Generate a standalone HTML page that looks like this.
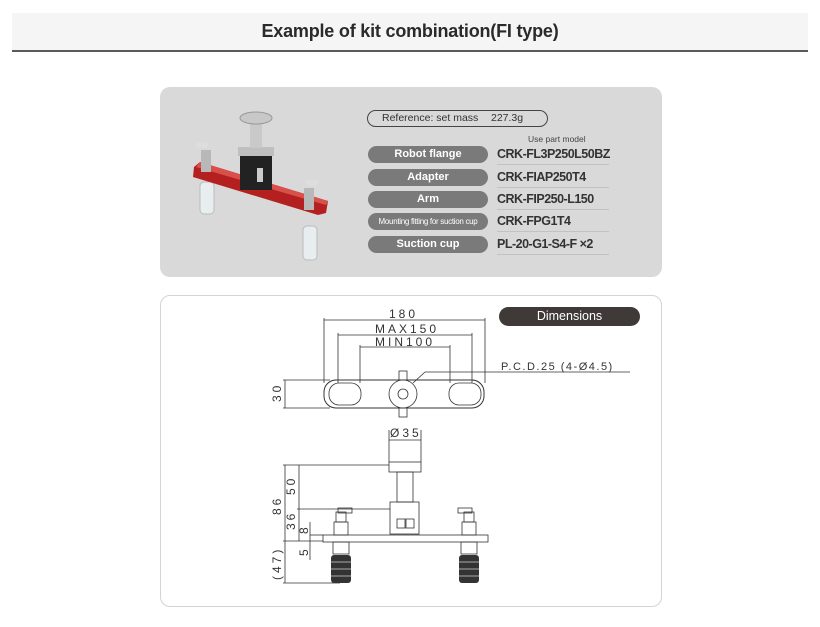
<!DOCTYPE html>
<html><head><meta charset="utf-8"><style>
html,body{margin:0;padding:0;background:#fff;width:820px;height:627px;overflow:hidden;font-family:"Liberation Sans",sans-serif;position:relative}
.band{position:absolute;left:12px;top:13px;width:796px;height:37px;background:#f5f5f5;border-bottom:2px solid #5a5a5a}
.band div{position:absolute;left:0;right:0;top:8px;text-align:center;font-weight:bold;font-size:18px;color:#2a2a2a;letter-spacing:-0.2px}
.p1{position:absolute;left:160px;top:87px;width:502px;height:190px;background:#d9d9d9;border-radius:10px}
.p2{position:absolute;left:160px;top:295px;width:500px;height:310px;border:1px solid #d4d4d4;border-radius:10px}
.pill{position:absolute;left:368px;width:120px;height:17px;border-radius:9px;background:#7a7a7a;color:#fff;font-size:11px;text-align:center;line-height:17px;font-weight:bold;white-space:nowrap}
.val{position:absolute;left:497px;font-size:12.5px;font-weight:bold;color:#333;width:112px;border-bottom:1px solid #c2c2c2;height:19px;line-height:19px;white-space:nowrap;letter-spacing:-0.5px}
.ref{position:absolute;left:367px;top:110px;width:179px;height:15px;border:1.5px solid #444;border-radius:9px;font-size:10.5px;color:#333;line-height:15px;white-space:nowrap}
.dim{position:absolute;left:499px;top:307px;width:141px;height:19px;border-radius:10px;background:#3f3a38;color:#fff;font-size:12.5px;text-align:center;line-height:19px}
</style></head><body>
<div class="band"><div>Example of kit combination(FI type)</div></div>
<div class="p1"></div>
<div class="ref"><span style="position:absolute;left:14px">Reference: set mass</span><span style="position:absolute;left:123px">227.3g</span></div>
<div style="position:absolute;left:528px;top:134px;font-size:8.5px;color:#444">Use part model</div>
<div class="pill" style="top:146px">Robot flange</div><div class="val" style="top:145px">CRK-FL3P250L50BZ</div>
<div class="pill" style="top:169px">Adapter</div><div class="val" style="top:168px">CRK-FIAP250T4</div>
<div class="pill" style="top:191px">Arm</div><div class="val" style="top:190px">CRK-FIP250-L150</div>
<div class="pill" style="top:213px;font-size:8px;font-weight:normal;letter-spacing:-0.3px">Mounting fitting for suction cup</div><div class="val" style="top:212px">CRK-FPG1T4</div>
<div class="pill" style="top:236px">Suction cup</div><div class="val" style="top:235px">PL-20-G1-S4-F ×2</div>

<svg style="position:absolute;left:0;top:0" width="820" height="627">
 <g>
  <rect x="200" y="182" width="14" height="32" rx="4" fill="#e8eef0" stroke="#bbb"/>
  <rect x="303" y="226" width="14" height="34" rx="4" fill="#e8eef0" stroke="#bbb"/>
  <polygon points="194,167 200,162 328,201 326,213 318,215 193,177" fill="#b3201f"/>
  <polygon points="200,162 328,201 326,205 196,167" fill="#d9504a"/>
  <rect x="240" y="152" width="32" height="38" fill="#222"/>
  <rect x="238" y="147" width="36" height="9" fill="#bfbfbf"/>
  <rect x="250" y="120" width="12" height="28" fill="#c9c9c9"/>
  <ellipse cx="256" cy="118" rx="16" ry="6" fill="#c8c8c8" stroke="#999"/>
  <rect x="257" y="168" width="6" height="14" fill="#ccc"/>
  <rect x="201" y="150" width="10" height="22" fill="#b8b8b8"/>
  <rect x="304" y="188" width="10" height="22" fill="#b8b8b8"/>
  <rect x="196" y="142" width="12" height="6" rx="3" fill="#ddd"/>
  <rect x="306" y="180" width="12" height="6" rx="3" fill="#ddd"/>
 </g>
 <g stroke="#333" stroke-width="0.8" fill="none">
  <line x1="324" y1="320" x2="485" y2="320"/><line x1="324" y1="318" x2="324" y2="383"/><line x1="485" y1="318" x2="485" y2="383"/>
  <line x1="338" y1="335" x2="472" y2="335"/><line x1="338" y1="333" x2="338" y2="383"/><line x1="472" y1="333" x2="472" y2="383"/>
  <line x1="360" y1="347" x2="450" y2="347"/><line x1="360" y1="345" x2="360" y2="383"/><line x1="450" y1="345" x2="450" y2="383"/>
  <line x1="425" y1="372" x2="630" y2="372"/><line x1="425" y1="372" x2="413" y2="383"/>
  <rect x="324" y="380" width="160" height="28" rx="12" stroke-width="1"/>
  <rect x="329" y="383" width="32" height="22" rx="10"/><rect x="449" y="383" width="32" height="22" rx="10"/>
  <circle cx="403" cy="394" r="14"/><circle cx="403" cy="394" r="5"/>
  <rect x="399" y="371" width="8" height="9"/><rect x="399" y="408" width="8" height="9"/>
  <line x1="283" y1="380" x2="330" y2="380"/><line x1="283" y1="408" x2="330" y2="408"/><line x1="285" y1="380" x2="285" y2="408"/>
  <line x1="389" y1="430" x2="389" y2="462"/><line x1="421" y1="430" x2="421" y2="462"/><line x1="389" y1="440" x2="421" y2="440"/>
  <rect x="389" y="462" width="32" height="10" fill="#fff"/>
  <rect x="397" y="472" width="16" height="30"/>
  <rect x="390" y="502" width="29" height="32"/>
  <rect x="397" y="519" width="8" height="9"/><rect x="406" y="519" width="8" height="9"/>
  <rect x="323" y="535" width="165" height="7"/>
  <line x1="283" y1="465" x2="389" y2="465"/><line x1="297" y1="509" x2="390" y2="509"/><line x1="283" y1="541" x2="323" y2="541"/>
  <line x1="285" y1="465" x2="285" y2="583"/><line x1="299" y1="465" x2="299" y2="541"/>
  <line x1="283" y1="583" x2="340" y2="583"/>
  <line x1="310" y1="522" x2="310" y2="560"/><line x1="310" y1="535" x2="323" y2="535"/>
  <rect x="334" y="522" width="14" height="13"/><rect x="462" y="522" width="14" height="13"/>
  <rect x="336" y="512" width="10" height="10"/><rect x="464" y="512" width="10" height="10"/>
  <rect x="338" y="508" width="14" height="5"/><rect x="458" y="508" width="14" height="5"/>
  <rect x="333" y="542" width="16" height="12"/><rect x="461" y="542" width="16" height="12"/>
 </g>
 <g fill="#333">
  <rect x="331" y="555" width="20" height="28" rx="3"/><rect x="459" y="555" width="20" height="28" rx="3"/>
 </g>
 <g stroke="#aaa" stroke-width="1">
  <line x1="331" y1="562" x2="351" y2="562"/><line x1="331" y1="569" x2="351" y2="569"/><line x1="331" y1="576" x2="351" y2="576"/>
  <line x1="459" y1="562" x2="479" y2="562"/><line x1="459" y1="569" x2="479" y2="569"/><line x1="459" y1="576" x2="479" y2="576"/>
 </g>
 <g font-family="Liberation Sans,sans-serif" font-size="12" fill="#333" letter-spacing="3">
  <text x="389" y="318">180</text><text x="375" y="333">MAX150</text><text x="375" y="346">MIN100</text>
  <text x="501" y="370" font-size="11" letter-spacing="1.5">P.C.D.25 (4-Ø4.5)</text>
  <text x="390" y="437">Ø35</text>
  <text transform="translate(281,402) rotate(-90)">30</text>
  <text transform="translate(281,515) rotate(-90)">86</text>
  <text transform="translate(295,495) rotate(-90)">50</text>
  <text transform="translate(295,530) rotate(-90)">36</text>
  <text transform="translate(308,534) rotate(-90)">8</text>
  <text transform="translate(308,556) rotate(-90)">5</text>
  <text transform="translate(281,580) rotate(-90)">(47)</text>
 </g>
</svg>
<div class="p2"></div>
<div class="dim">Dimensions</div>
</body></html>
